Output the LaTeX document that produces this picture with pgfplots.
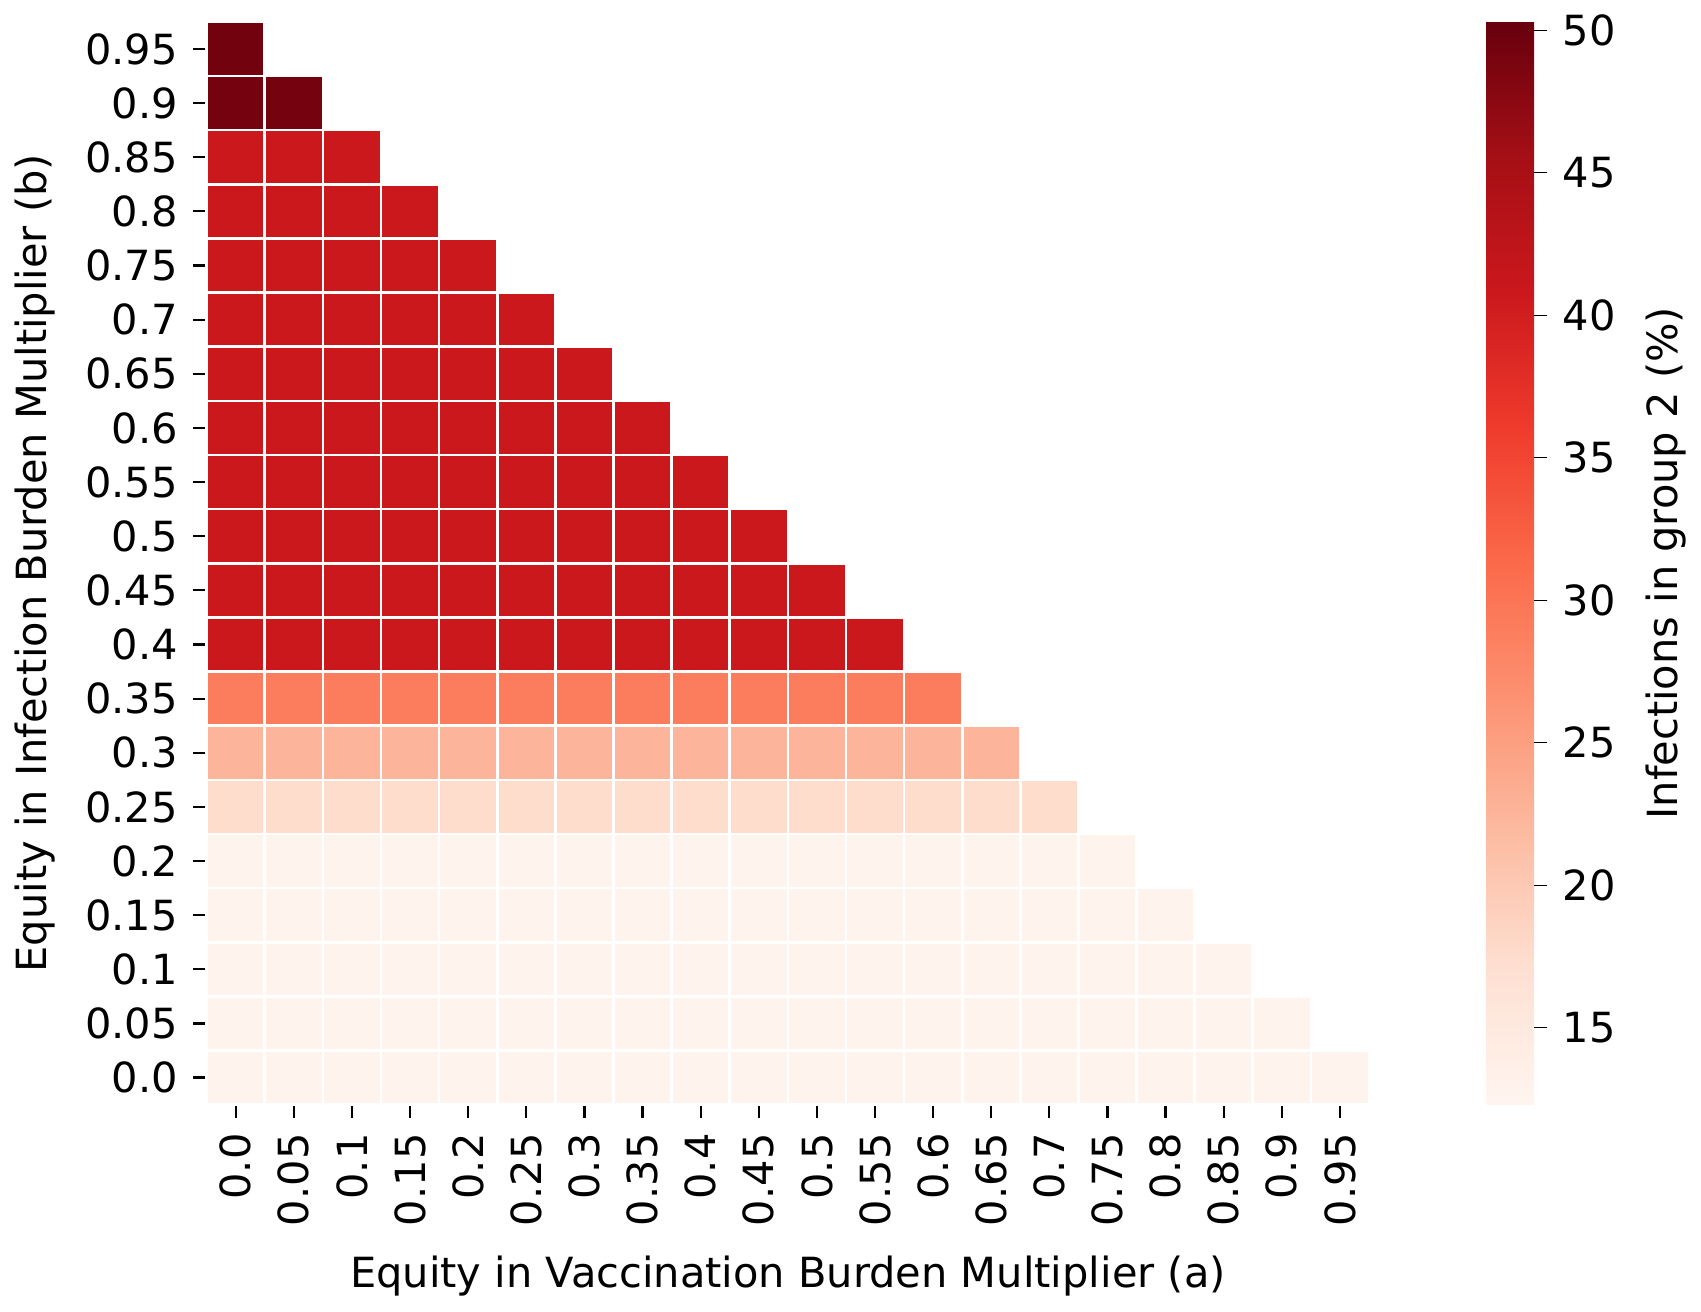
\documentclass[border=0pt]{standalone}
\usepackage{pgfplots}
\pgfplotsset{compat=1.18}
\usepackage{fontspec}
\setmainfont{DejaVu Sans}
\pgfdeclareplotmark{cell}{\pgfpathrectangle{\pgfpoint{-6.575pt}{-6.125pt}}{\pgfpoint{13.15pt}{12.25pt}}\pgfusepathqfillstroke}
\begin{document}
\begin{tikzpicture}
\begin{axis}[
  scale only axis, width=263pt, height=245pt,
  font=\fontsize{9.4}{11}\selectfont,
  xmin=-0.5, xmax=19.5, ymin=-0.5, ymax=19.5,
  axis line style={draw=none},
  tick align=outside, xtick pos=bottom, ytick pos=left,
  major tick length=3pt, tick style={black, line width=0.5pt},
  xtick={0,...,19}, ytick={0,...,19},
  xticklabels={0.0,0.05,0.1,0.15,0.2,0.25,0.3,0.35,0.4,0.45,0.5,0.55,0.6,0.65,0.7,0.75,0.8,0.85,0.9,0.95},
  yticklabels={0.0,0.05,0.1,0.15,0.2,0.25,0.3,0.35,0.4,0.45,0.5,0.55,0.6,0.65,0.7,0.75,0.8,0.85,0.9,0.95},
  x tick label style={rotate=90, anchor=east},
  xlabel={Equity in Vaccination Burden Multiplier (a)},
  ylabel={Equity in Infection Burden Multiplier (b)},
  colormap={reds}{rgb255=(255,245,240) rgb255=(254,224,210) rgb255=(252,187,161) rgb255=(252,146,114) rgb255=(251,106,74) rgb255=(239,59,44) rgb255=(203,24,29) rgb255=(165,15,21) rgb255=(103,0,13)},
  point meta min=12.3, point meta max=50.3,
  colorbar,
  colorbar style={
    at={(parent axis.north east)}, anchor=north west, xshift=18pt,
    width=10.8pt, height=245pt, scale only axis,
    axis line style={draw=none},
    ytick={15,20,...,50}, ytick pos=right, tick align=outside,
    major tick length=3pt, tick style={black},
    yticklabel style={/pgf/number format/assume math mode=true, font=\fontsize{9.4}{11}\selectfont},
    ylabel={Infections in group 2 (\%)}, ylabel style={font=\fontsize{9.4}{11}\selectfont},
  },
]
\addplot[scatter, only marks, mark=cell, line width=0.6pt,
  scatter/use mapped color={draw=white, fill=mapped color}, point meta=explicit]
  table[meta=v, row sep=\\] {
x y v \\
0 19 49.5 \\
0 18 49.3 \\ 1 18 49.3 \\
0 17 40.8 \\ 1 17 40.8 \\ 2 17 40.8 \\
0 16 40.8 \\ 1 16 40.8 \\ 2 16 40.8 \\ 3 16 40.8 \\
0 15 40.8 \\ 1 15 40.8 \\ 2 15 40.8 \\ 3 15 40.8 \\ 4 15 40.8 \\
0 14 40.8 \\ 1 14 40.8 \\ 2 14 40.8 \\ 3 14 40.8 \\ 4 14 40.8 \\ 5 14 40.8 \\
0 13 40.8 \\ 1 13 40.8 \\ 2 13 40.8 \\ 3 13 40.8 \\ 4 13 40.8 \\ 5 13 40.8 \\ 6 13 40.8 \\
0 12 40.8 \\ 1 12 40.8 \\ 2 12 40.8 \\ 3 12 40.8 \\ 4 12 40.8 \\ 5 12 40.8 \\ 6 12 40.8 \\ 7 12 40.8 \\
0 11 40.8 \\ 1 11 40.8 \\ 2 11 40.8 \\ 3 11 40.8 \\ 4 11 40.8 \\ 5 11 40.8 \\ 6 11 40.8 \\ 7 11 40.8 \\ 8 11 40.8 \\
0 10 40.8 \\ 1 10 40.8 \\ 2 10 40.8 \\ 3 10 40.8 \\ 4 10 40.8 \\ 5 10 40.8 \\ 6 10 40.8 \\ 7 10 40.8 \\ 8 10 40.8 \\ 9 10 40.8 \\
0 9 40.8 \\ 1 9 40.8 \\ 2 9 40.8 \\ 3 9 40.8 \\ 4 9 40.8 \\ 5 9 40.8 \\ 6 9 40.8 \\ 7 9 40.8 \\ 8 9 40.8 \\ 9 9 40.8 \\ 10 9 40.8 \\
0 8 40.8 \\ 1 8 40.8 \\ 2 8 40.8 \\ 3 8 40.8 \\ 4 8 40.8 \\ 5 8 40.8 \\ 6 8 40.8 \\ 7 8 40.8 \\ 8 8 40.8 \\ 9 8 40.8 \\ 10 8 40.8 \\ 11 8 40.8 \\
0 7 29.0 \\ 1 7 29.0 \\ 2 7 29.0 \\ 3 7 29.0 \\ 4 7 29.0 \\ 5 7 29.0 \\ 6 7 29.0 \\ 7 7 29.0 \\ 8 7 29.0 \\ 9 7 29.0 \\ 10 7 29.0 \\ 11 7 29.0 \\ 12 7 29.0 \\
0 6 22.5 \\ 1 6 22.5 \\ 2 6 22.5 \\ 3 6 22.5 \\ 4 6 22.5 \\ 5 6 22.5 \\ 6 6 22.5 \\ 7 6 22.5 \\ 8 6 22.5 \\ 9 6 22.5 \\ 10 6 22.5 \\ 11 6 22.5 \\ 12 6 22.5 \\ 13 6 22.5 \\
0 5 17.5 \\ 1 5 17.5 \\ 2 5 17.5 \\ 3 5 17.5 \\ 4 5 17.5 \\ 5 5 17.5 \\ 6 5 17.5 \\ 7 5 17.5 \\ 8 5 17.5 \\ 9 5 17.5 \\ 10 5 17.5 \\ 11 5 17.5 \\ 12 5 17.5 \\ 13 5 17.5 \\ 14 5 17.5 \\
0 4 12.8 \\ 1 4 12.8 \\ 2 4 12.8 \\ 3 4 12.8 \\ 4 4 12.8 \\ 5 4 12.8 \\ 6 4 12.8 \\ 7 4 12.8 \\ 8 4 12.8 \\ 9 4 12.8 \\ 10 4 12.8 \\ 11 4 12.8 \\ 12 4 12.8 \\ 13 4 12.8 \\ 14 4 12.8 \\ 15 4 12.8 \\
0 3 12.8 \\ 1 3 12.8 \\ 2 3 12.8 \\ 3 3 12.8 \\ 4 3 12.8 \\ 5 3 12.8 \\ 6 3 12.8 \\ 7 3 12.8 \\ 8 3 12.8 \\ 9 3 12.8 \\ 10 3 12.8 \\ 11 3 12.8 \\ 12 3 12.8 \\ 13 3 12.8 \\ 14 3 12.8 \\ 15 3 12.8 \\ 16 3 12.8 \\
0 2 12.8 \\ 1 2 12.8 \\ 2 2 12.8 \\ 3 2 12.8 \\ 4 2 12.8 \\ 5 2 12.8 \\ 6 2 12.8 \\ 7 2 12.8 \\ 8 2 12.8 \\ 9 2 12.8 \\ 10 2 12.8 \\ 11 2 12.8 \\ 12 2 12.8 \\ 13 2 12.8 \\ 14 2 12.8 \\ 15 2 12.8 \\ 16 2 12.8 \\ 17 2 12.8 \\
0 1 12.8 \\ 1 1 12.8 \\ 2 1 12.8 \\ 3 1 12.8 \\ 4 1 12.8 \\ 5 1 12.8 \\ 6 1 12.8 \\ 7 1 12.8 \\ 8 1 12.8 \\ 9 1 12.8 \\ 10 1 12.8 \\ 11 1 12.8 \\ 12 1 12.8 \\ 13 1 12.8 \\ 14 1 12.8 \\ 15 1 12.8 \\ 16 1 12.8 \\ 17 1 12.8 \\ 18 1 12.8 \\
0 0 12.8 \\ 1 0 12.8 \\ 2 0 12.8 \\ 3 0 12.8 \\ 4 0 12.8 \\ 5 0 12.8 \\ 6 0 12.8 \\ 7 0 12.8 \\ 8 0 12.8 \\ 9 0 12.8 \\ 10 0 12.8 \\ 11 0 12.8 \\ 12 0 12.8 \\ 13 0 12.8 \\ 14 0 12.8 \\ 15 0 12.8 \\ 16 0 12.8 \\ 17 0 12.8 \\ 18 0 12.8 \\ 19 0 12.8 \\
};
\end{axis}
\end{tikzpicture}
\end{document}
